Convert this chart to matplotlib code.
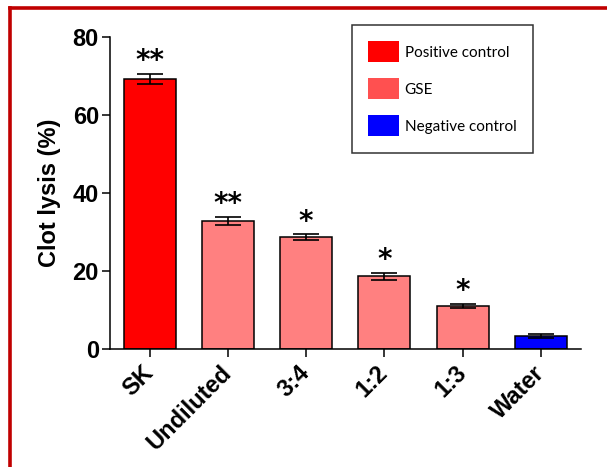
import matplotlib
matplotlib.use("Agg")
import matplotlib.pyplot as plt
from matplotlib.patches import Patch
from matplotlib.lines import Line2D

categories = ["SK", "Undiluted", "3:4", "1:2", "1:3", "Water"]
values = [69.3, 32.8, 28.6, 18.5, 10.9, 3.2]
errors = [1.3, 1.0, 0.7, 0.9, 0.6, 0.4]
stars = ["**", "**", "*", "*", "*", ""]
bar_colors = ["#FF0000", "#FF8080", "#FF8080", "#FF8080", "#FF8080", "#0000FF"]
legend_labels = ["Positive control", "GSE", "Negative control"]
legend_colors = ["#FF0000", "#FF5050", "#0000FF"]
yticks = [0, 20, 40, 60, 80]

fig = plt.figure(figsize=(6.07, 4.67), dpi=100)
fig.patch.set_facecolor("white")
ax = fig.add_axes([110/607, 1-348.5/467, (581-110)/607, (348.5-37)/467])

x = list(range(len(categories)))
ax.bar(x, values, width=0.665, color=bar_colors, edgecolor="black", linewidth=1.1, zorder=2)
ax.errorbar(x, values, yerr=errors, fmt="none", ecolor="black", elinewidth=1.2,
            capsize=9.5, capthick=1.2, zorder=3)

for xi, v, e, s in zip(x, values, errors, stars):
    if s:
        ax.annotate(s, (xi, v + e), xytext=(0, -1), textcoords="offset points",
                    ha="center", va="bottom", fontsize=20, fontweight="bold",
                    family="DejaVu Sans")

ax.set_xlim(-0.505, 5.51)
ax.set_ylim(0, 80)
ax.set_yticks(yticks)
ax.set_xticks(x)
ax.set_yticklabels([str(t) for t in yticks], fontsize=17, fontweight="bold", family="Liberation Sans")
ax.set_xticklabels(categories, rotation=45, ha="right", va="center", rotation_mode="anchor",
                   fontsize=17, fontweight="bold", family="Liberation Sans")
ax.tick_params(axis="y", length=6, width=1.1, pad=2)
ax.tick_params(axis="x", length=6, width=1.1, pad=9)
for sp in ["top", "right"]:
    ax.spines[sp].set_visible(False)
for sp in ["left", "bottom"]:
    ax.spines[sp].set_linewidth(1.1)
ax.set_ylabel("Clot lysis (%)", fontsize=17, fontweight="bold", family="Liberation Sans", labelpad=8)

handles = [Patch(facecolor=c, edgecolor="none") for c in legend_colors]
leg = ax.legend(handles, legend_labels, loc="upper left", bbox_to_anchor=((352-110)/471, (348.5-25)/311.5),
                frameon=True, fancybox=False, prop={"family": "Lato", "size": 11},
                handlelength=2.0, handleheight=1.75, labelspacing=1.05, borderpad=1.05,
                handletextpad=0.4, borderaxespad=0)
leg.get_frame().set_edgecolor("black")
leg.get_frame().set_linewidth(1.1)

fig.add_artist(Line2D([10/607, 1.0], [1-8/467, 1-8/467], color="#C00000", linewidth=2.6,
                      transform=fig.transFigure))
fig.add_artist(Line2D([10/607, 10/607], [0, 1-8/467], color="#C00000", linewidth=2.6,
                      transform=fig.transFigure))

fig.savefig("out.png", dpi=100)
